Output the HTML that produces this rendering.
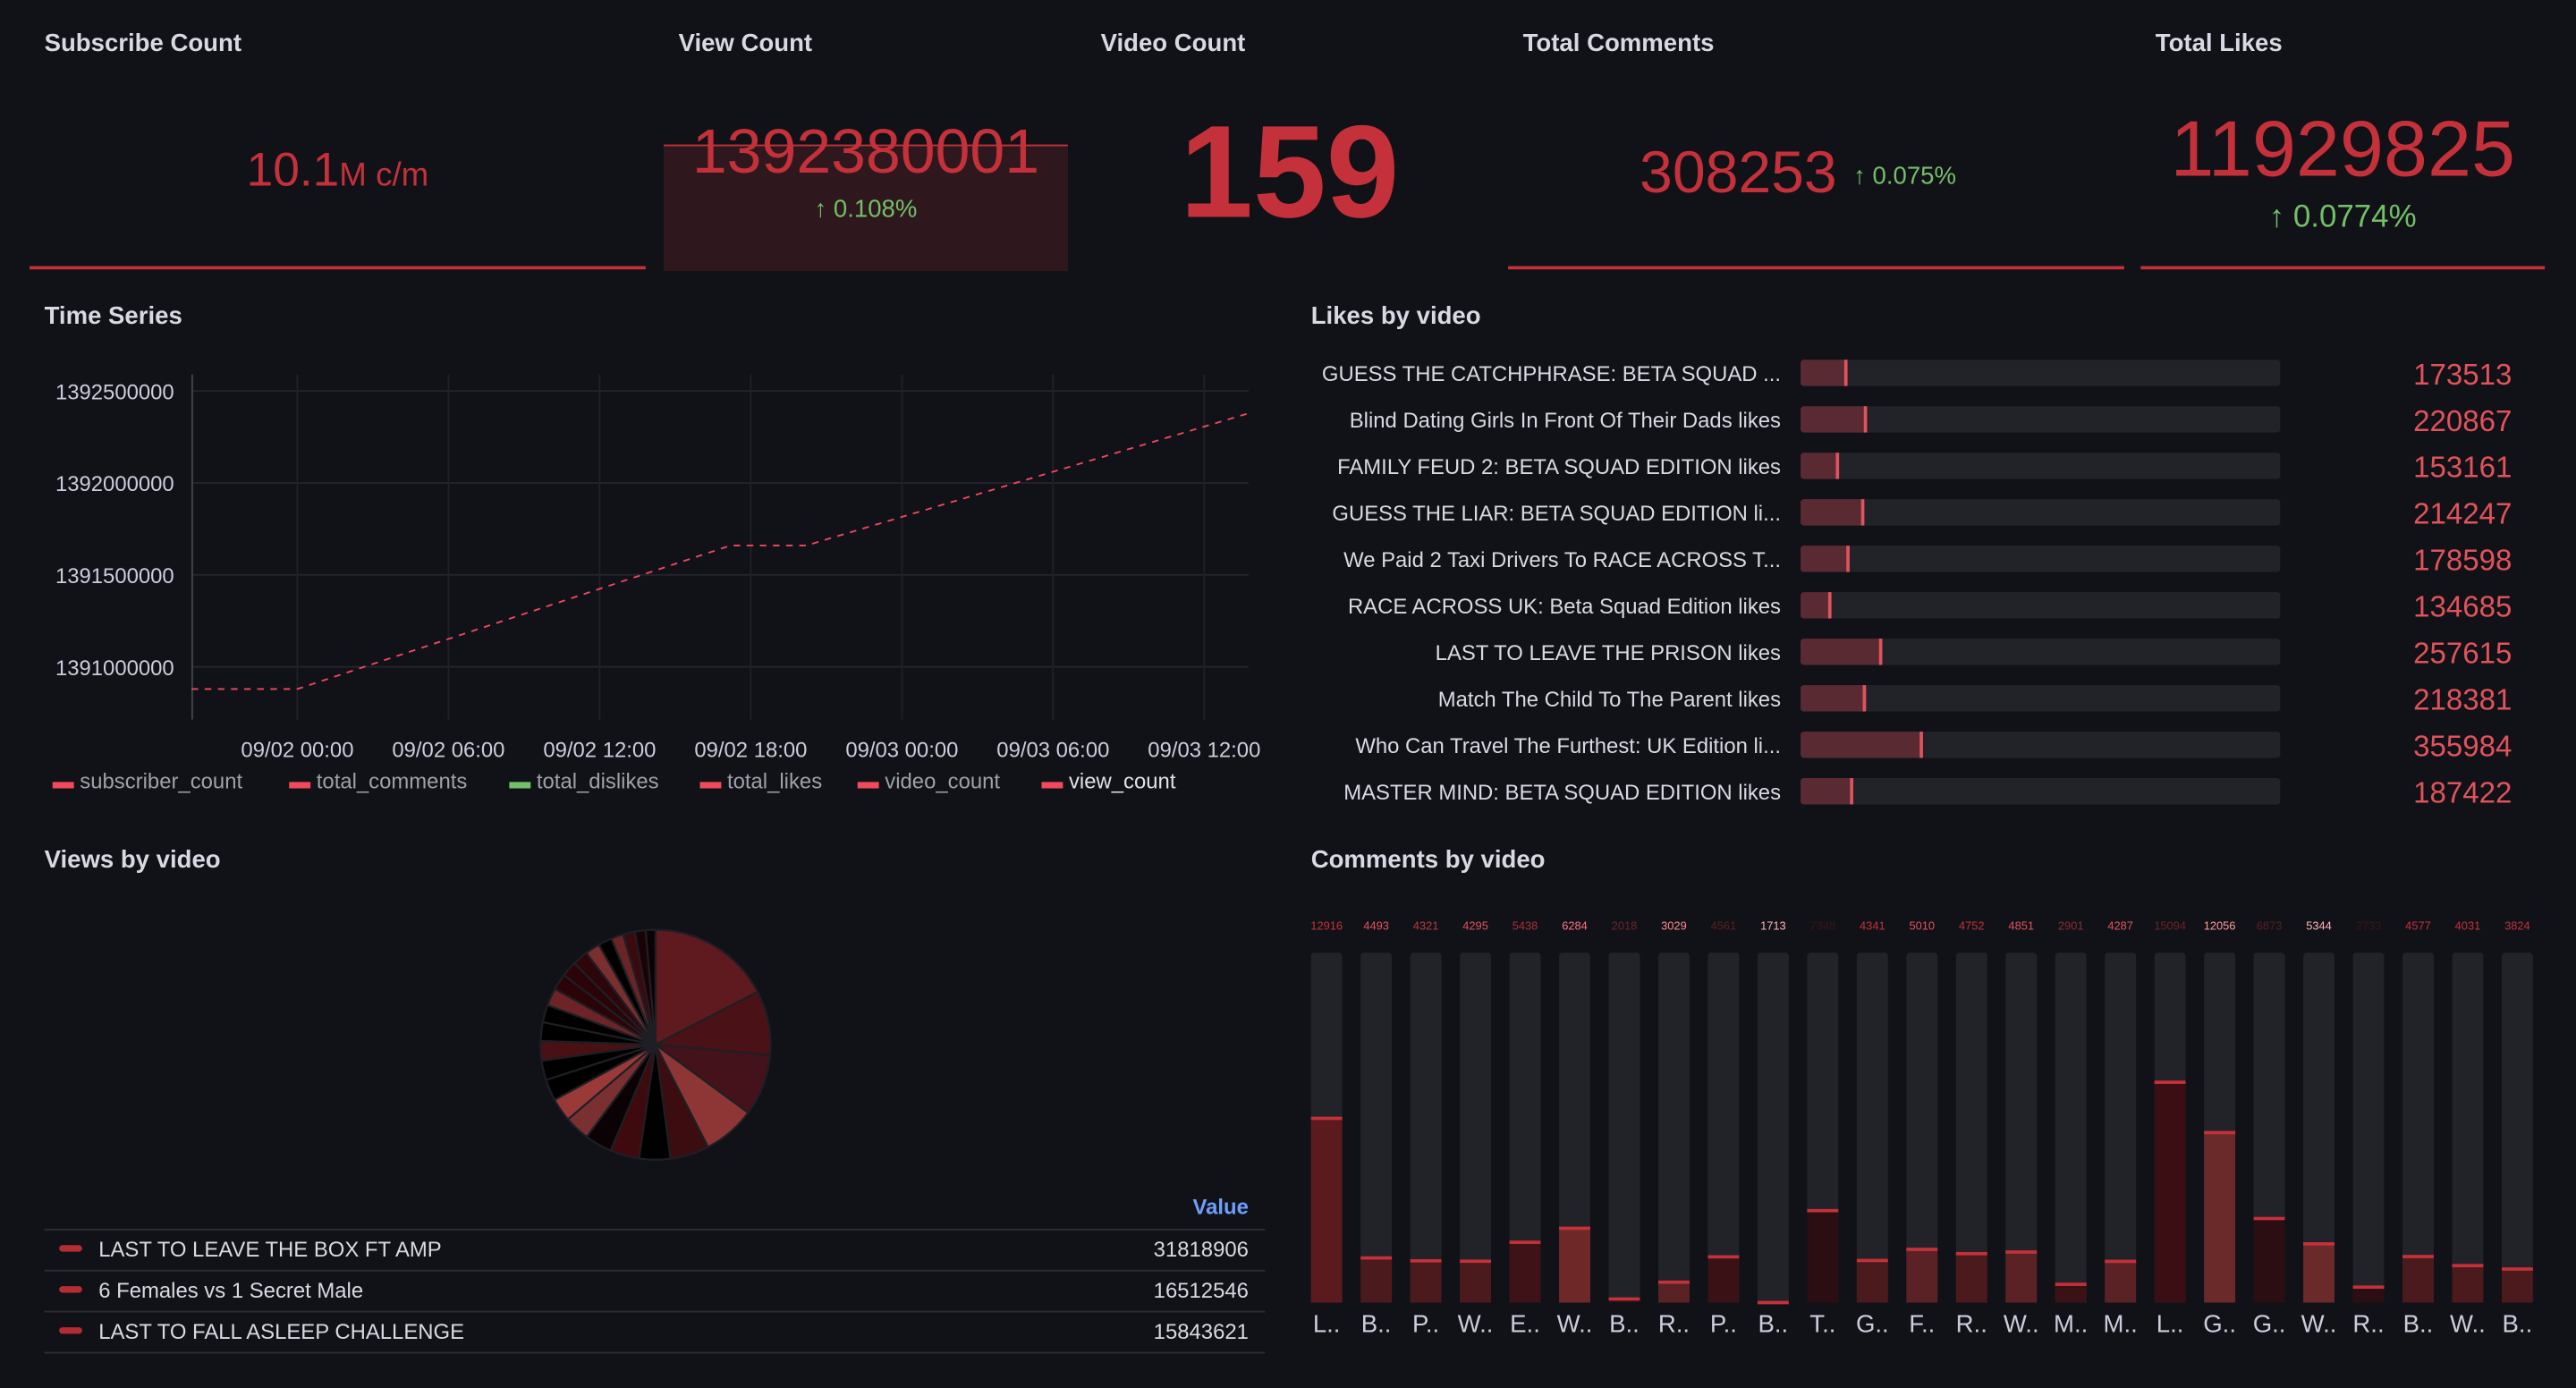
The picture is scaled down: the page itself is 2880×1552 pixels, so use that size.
<!DOCTYPE html>
<html><head><meta charset="utf-8"><style>
html,body{margin:0;padding:0;background:#111217;overflow:hidden;width:2880px;height:1552px}
#root{position:absolute;left:0;top:0;width:1568px;height:845px;transform:scale(1.83673);transform-origin:0 0;font-family:"Liberation Sans",sans-serif;color:#ccccdc}
.t{position:absolute;font-size:15px;font-weight:bold;color:#d8d9e3}
.abs{position:absolute}
.lg{position:absolute;top:0;white-space:nowrap}
svg text{font-family:"Liberation Sans",sans-serif}
</style></head><body>
<div id="root">
<div class="t" style="left:27px;top:18px">Subscribe Count</div>
<div class="abs" style="left:18px;top:88px;width:375px;text-align:center;color:#c4313a;font-size:29px">10.1<span style="font-size:20px">M c/m</span></div>
<div class="abs" style="left:18px;top:162px;width:375px;height:2px;background:#c4313a"></div>

<div class="t" style="left:413px;top:18px">View Count</div>
<div class="abs" style="left:404px;top:88px;width:246px;height:76px;background:#2f181d;border-top:1px solid #c4313a"></div>
<div class="abs" style="left:404px;top:72px;width:246px;text-align:center;color:#c4313a;font-size:38px">1392380001</div>
<div class="abs" style="left:404px;top:119px;width:246px;text-align:center;color:#73bf69;font-size:15px">↑ 0.108%</div>

<div class="t" style="left:670px;top:18px">Video Count</div>
<div class="abs" style="left:660px;top:60px;width:250px;text-align:center;color:#c4313a;font-size:80px;line-height:90px;font-weight:bold">159</div>

<div class="t" style="left:927px;top:18px">Total Comments</div>
<div class="abs" style="left:998px;top:84px;color:#c4313a;font-size:36px">308253 <span style="color:#73bf69;font-size:15px;vertical-align:middle">↑ 0.075%</span></div>
<div class="abs" style="left:918px;top:162px;width:375px;height:2px;background:#c4313a"></div>

<div class="t" style="left:1312px;top:18px">Total Likes</div>
<div class="abs" style="left:1303px;top:64px;width:246px;text-align:center;color:#c4313a;font-size:48px">11929825</div>
<div class="abs" style="left:1303px;top:122px;width:246px;text-align:center;color:#73bf69;font-size:19px">↑ 0.0774%</div>
<div class="abs" style="left:1303px;top:162px;width:246px;height:2px;background:#c4313a"></div>

<div class="t" style="left:27px;top:184px">Time Series</div>
<div class="t" style="left:798px;top:184px">Likes by video</div>
<div class="t" style="left:27px;top:515px">Views by video</div>
<div class="t" style="left:798px;top:515px">Comments by video</div>

<svg id="svg" class="abs" style="left:0;top:0" width="1568" height="845"></svg>

<div class="abs" style="left:0;top:468px;width:780px;height:18px;font-size:13px;color:#9fa0aa">
<span class="lg" style="left:32px"><span style="color:#f2495c">▬</span> subscriber_count</span>
<span class="lg" style="left:176px"><span style="color:#f2495c">▬</span> total_comments</span>
<span class="lg" style="left:310px"><span style="color:#73bf69">▬</span> total_dislikes</span>
<span class="lg" style="left:426px"><span style="color:#f2495c">▬</span> total_likes</span>
<span class="lg" style="left:522px"><span style="color:#f2495c">▬</span> video_count</span>
<span class="lg" style="left:634px;color:#e0e0ea"><span style="color:#f2495c">▬</span> view_count</span>
</div>

<div class="abs" style="left:700px;top:727px;width:60px;text-align:right;color:#6e9fff;font-size:13px;font-weight:bold">Value</div>
<div class="abs" style="left:27px;top:748px;width:743px;font-size:13px;color:#d8d9e3">
 <div style="height:24px;border-top:1px solid #2c2d33;position:relative"><span style="position:absolute;left:9px;top:9px;width:14px;height:4px;background:#b52c33;border-radius:2px"></span><span style="position:absolute;left:33px;top:4px">LAST TO LEAVE THE BOX FT AMP</span><span style="position:absolute;right:10px;top:4px">31818906</span></div>
 <div style="height:24px;border-top:1px solid #2c2d33;position:relative"><span style="position:absolute;left:9px;top:9px;width:14px;height:4px;background:#b52c33;border-radius:2px"></span><span style="position:absolute;left:33px;top:4px">6 Females vs 1 Secret Male</span><span style="position:absolute;right:10px;top:4px">16512546</span></div>
 <div style="height:24px;border-top:1px solid #2c2d33;border-bottom:1px solid #2c2d33;position:relative"><span style="position:absolute;left:9px;top:9px;width:14px;height:4px;background:#b52c33;border-radius:2px"></span><span style="position:absolute;left:33px;top:4px">LAST TO FALL ASLEEP CHALLENGE</span><span style="position:absolute;right:10px;top:4px">15843621</span></div>
</div>
</div>
<script>
const tsHours=[-4.2,0,17.2,20.2,37.8];
const tsValues=[1390880000,1390880000,1391660000,1391660000,1392380000];
const yTicks=[1391000000,1391500000,1392000000,1392500000];
const xTickHours=[0,6,12,18,24,30,36];
const xTickLabels=["09/02 00:00","09/02 06:00","09/02 12:00","09/02 18:00","09/03 00:00","09/03 06:00","09/03 12:00"];
const likeNames=["GUESS THE CATCHPHRASE: BETA SQUAD ...","Blind Dating Girls In Front Of Their Dads likes","FAMILY FEUD 2: BETA SQUAD EDITION likes","GUESS THE LIAR: BETA SQUAD EDITION li...","We Paid 2 Taxi Drivers To RACE ACROSS T...","RACE ACROSS UK: Beta Squad Edition likes","LAST TO LEAVE THE PRISON likes","Match The Child To The Parent likes","Who Can Travel The Furthest: UK Edition li...","MASTER MIND: BETA SQUAD EDITION likes"];
const likeValues=[173513,220867,153161,214247,178598,134685,257615,218381,355984,187422];
const comLabels=["L..","B..","P..","W..","E..","W..","B..","R..","P..","B..","T..","G..","F..","R..","W..","M..","M..","L..","G..","G..","W..","R..","B..","W..","B.."];
const comValues=[12916,4493,4321,4295,5438,6284,2018,3029,4561,1713,7348,4341,5010,4752,4851,2901,4287,15094,12056,6873,5344,2733,4577,4031,3824];
const pieValues=[31818906,16512546,15843621,13500000,10000000,8000000,7500000,7000000,6500000,6000000,5500000,5000000,5000000,4800000,4500000,4500000,4200000,4000000,4000000,3800000,3500000,3200000,3000000,2800000,2500000];

const NS="http://www.w3.org/2000/svg",svg=document.getElementById('svg');
function mk(tag,at,txt){const e=document.createElementNS(NS,tag);for(const k in at)e.setAttribute(k,at[k]);if(txt!=null)e.textContent=txt;svg.appendChild(e);return e;}

const X=h=>181+(h)*92/6, Y=v=>406-(v-1391000000)*56/500000;
yTicks.forEach(v=>{
 const g=mk('line',{x1:117,x2:760,y1:Y(v),y2:Y(v),stroke:'#24252b'});
 
 const t=mk('text',{x:106,y:Y(v)+5,'text-anchor':'end','font-size':13,fill:'#ccccdc'},v);
 
});
xTickHours.forEach((h,i)=>{
 const g=mk('line',{x1:X(h),x2:X(h),y1:228,y2:438,stroke:'#202127'});
 
 const t=mk('text',{x:X(h),y:461,'text-anchor':'middle','font-size':13,fill:'#ccccdc'},xTickLabels[i]);
 
});
const ax=mk('line',{x1:117,x2:117,y1:228,y2:438,stroke:'#44454d'});

const ln=mk('polyline',{points:tsHours.map((h,i)=>X(h)+','+Y(tsValues[i])).join(' '),fill:'none',stroke:'#f2495c','stroke-width':1,'stroke-dasharray':'4 4'});


const LX=v=>(v-60000)/1160000*292;
likeNames.forEach((n,i)=>{
 const y=227+i*28.3;
 const t=mk('text',{x:1084,y:y+5,'text-anchor':'end','font-size':13,fill:'#d8d9e3'},n);
 
 const b=mk('rect',{x:1096,y:y-8,width:292,height:16,rx:2,fill:'#222329'});
 
 const w=LX(likeValues[i]);
 const f=mk('rect',{x:1096,y:y-8,width:w,height:16,rx:2,fill:'#5a2a33'});
 
 const e=mk('rect',{x:1096+w-2,y:y-8,width:2,height:16,fill:'#e0535c'});
 
 const v=mk('text',{x:1529,y:y+7,'text-anchor':'end','font-size':18,fill:'#e0535c'},likeValues[i]);
 
});

const CH=v=>Math.max(1,(v-1700)*0.01009);
const fills=['#5a1a1e','#4a1a1c','#4a1a1c','#4a1a1c','#3e1216','#6e2828','#2a1214','#5a2224','#3a1216','#8a3434','#2a0e12','#4a1a1c','#5a2224','#4a1a1c','#5a2224','#3a1216','#5a2224','#3a0e12','#6a2a2a','#2a0e12','#6a2a2a','#2a0e12','#4a1a1c','#4a1a1c','#4a1a1c'];
const lblc=['#c4313a','#e0535c','#b83a3e','#e0535c','#a83038','#ff7383','#6a2428','#ff8a8a','#5a1e24','#ffb3b8','#3a1418','#c4313a','#e0535c','#c4313a','#e0535c','#8a2c30','#e0535c','#6a2428','#ff9a9a','#5a1e24','#ffb3b8','#3a1418','#c4313a','#c4313a','#c4313a'];
comValues.forEach((v,i)=>{
 const x=798+i*30.2, w=19;
 const bg=mk('rect',{x:x,y:580,width:w,height:213,rx:2,fill:'#222329'});
 
 const h=CH(v);
 const f=mk('rect',{x:x,y:793-h,width:w,height:h,fill:fills[i]});
 
 const e=mk('rect',{x:x,y:793-h,width:w,height:2,fill:'#c4313a'});
 
 const t=mk('text',{x:x+w/2,y:566,'text-anchor':'middle','font-size':7,fill:lblc[i]},v);
 
 const l=mk('text',{x:x+w/2,y:811,'text-anchor':'middle','font-size':15,fill:'#ccccdc'},comLabels[i]);
 
});

const pc=['#5e1a1e','#4a1216','#43121a','#8e3535','#3b0c10','#000000','#3e0a0e','#0a0204','#7a3030','#9a3a38','#000000','#000000','#4a1014','#000000','#000000','#6e2426','#2a0408','#2a0408','#2e060a','#7a2e2e','#000000','#6a2426','#3a0a0e','#1a0306','#0a0204'];
const tot=pieValues.reduce((a,b)=>a+b,0);let a0=-Math.PI/2;const cx=399,cy=636,r=70;
pieValues.forEach((v,i)=>{
 const a1=a0+v/tot*2*Math.PI;
 const p=`M${cx},${cy} L${cx+r*Math.cos(a0)},${cy+r*Math.sin(a0)} A${r},${r} 0 ${a1-a0>Math.PI?1:0} 1 ${cx+r*Math.cos(a1)},${cy+r*Math.sin(a1)} Z`;
 const s=mk('path',{d:p,fill:pc[i%pc.length],stroke:'#1e1f24','stroke-width':1.2,'stroke-linejoin':'round'});
 
 a0=a1;
});
</script>
</body></html>
